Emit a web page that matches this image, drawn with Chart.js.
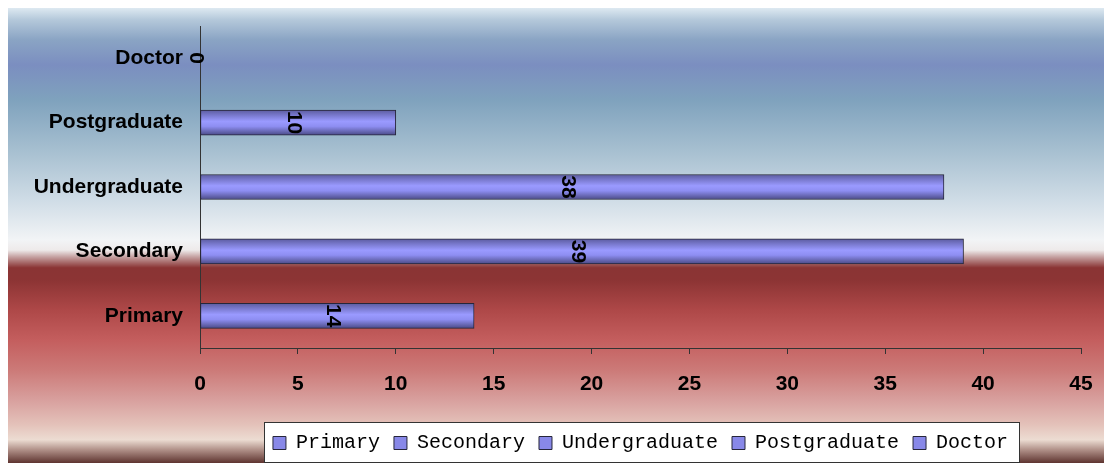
<!DOCTYPE html>
<html>
<head>
<meta charset="utf-8">
<script src="https://cdn.jsdelivr.net/npm/chart.js@4/dist/chart.umd.min.js"></script>
<style>
  html, body { margin: 0; padding: 0; background: #ffffff; }
  #wrap { width: 1107px; height: 463px; position: relative; }
</style>
</head>
<body>
<div id="wrap"><canvas id="c" width="1107" height="463"></canvas></div>
<script>
// Education levels and head counts
const categories = ['Primary', 'Secondary', 'Undergraduate', 'Postgraduate', 'Doctor'];
const counts = [14, 39, 38, 10, 0];
const xMin = 0;
const xMax = 45;
const xStep = 5;

const BAR_H = 25;
const LABEL_FONT = { family: '"Liberation Sans", Arial, sans-serif', size: 21, weight: 'bold' };

// Panel background: blue sky fading to white, then deep red fading to pink
const backdrop = {
  id: 'backdrop',
  beforeDraw(chart) {
    const ctx = chart.ctx;
    ctx.save();
    ctx.fillStyle = '#ffffff';
    ctx.fillRect(0, 0, chart.width, chart.height);
    const top = 8, bottom = chart.height, left = 8, right = 1104;
    const g = ctx.createLinearGradient(0, top, 0, bottom);
    const stops = [
      [0.000, '#dde9f1'], [0.026, '#b4c8da'], [0.070, '#8aa4c4'], [0.125, '#7b8ec0'],
      [0.202, '#7fa2bd'], [0.312, '#a6bfd0'], [0.422, '#cfdce6'], [0.510, '#f2f4f6'],
      [0.532, '#eeeaea'], [0.549, '#c09898'], [0.571, '#8a3434'], [0.598, '#8c3434'],
      [0.664, '#ae4848'], [0.730, '#c45e5e'], [0.796, '#cc7a78'], [0.862, '#d8a09e'],
      [0.916, '#e4c2ba'], [0.949, '#ecdcd2'], [0.971, '#b09088'], [1.000, '#5e3430']
    ];
    stops.forEach(([o, c]) => g.addColorStop(o, c));
    ctx.fillStyle = g;
    ctx.fillRect(left, top, right - left, bottom - top);

    // white framed box behind the legend
    const lg = chart.legend;
    if (lg && lg.legendHitBoxes && lg.legendHitBoxes.length) {
      const hb = lg.legendHitBoxes;
      const x0 = Math.round(hb[0].left) - 8.5;
      const last = hb[hb.length - 1];
      const x1 = Math.round(last.left + last.width) + 11.5;
      const y0 = Math.round(hb[0].top) - 10.5;
      const y1 = Math.round(hb[0].top + hb[0].height) + 9.5;
      ctx.fillStyle = '#ffffff';
      ctx.fillRect(x0, y0, x1 - x0, y1 - y0);
      ctx.strokeStyle = '#333333';
      ctx.lineWidth = 1;
      ctx.strokeRect(x0, y0, x1 - x0, y1 - y0);
    }
    ctx.restore();
  }
};

// Value written inside each bar, turned a quarter clockwise
const barValues = {
  id: 'barValues',
  afterDatasetsDraw(chart) {
    const ctx = chart.ctx;
    const meta = chart.getDatasetMeta(0);
    ctx.save();
    ctx.fillStyle = '#000000';
    ctx.font = 'bold 21px "Liberation Sans", Arial, sans-serif';
    ctx.textAlign = 'center';
    ctx.textBaseline = 'middle';
    meta.data.forEach((el, i) => {
      const cx = (el.base + el.x) / 2 - 4;
      ctx.save();
      ctx.translate(cx, el.y);
      ctx.rotate(Math.PI / 2);
      ctx.fillText(String(counts[i]), 0, 0);
      ctx.restore();
    });
    ctx.restore();
  }
};

function barFill(context) {
  const chart = context.chart;
  if (!chart.chartArea || !chart.scales.y) return '#9999ff';
  const yc = chart.scales.y.getPixelForValue(context.dataIndex);
  const g = chart.ctx.createLinearGradient(0, yc - BAR_H / 2, 0, yc + BAR_H / 2);
  g.addColorStop(0.0, '#5c5ca0');
  g.addColorStop(0.2, '#7878cc');
  g.addColorStop(0.45, '#9a9aff');
  g.addColorStop(0.65, '#8e8ef2');
  g.addColorStop(0.85, '#6868b4');
  g.addColorStop(1.0, '#4a4a88');
  return g;
}

new Chart(document.getElementById('c'), {
  type: 'bar',
  data: {
    labels: categories,
    datasets: [{
      label: 'Count',
      data: counts,
      backgroundColor: barFill,
      borderColor: '#26263a',
      borderWidth: 1,
      borderSkipped: false,
      barThickness: BAR_H
    }]
  },
  options: {
    indexAxis: 'y',
    responsive: false,
    animation: false,
    devicePixelRatio: 1,
    layout: { padding: { top: 26, right: 26, bottom: 0, left: 0 } },
    scales: {
      x: {
        min: xMin,
        max: xMax,
        ticks: { stepSize: xStep, color: '#000000', font: LABEL_FONT, padding: 18 },
        grid: { drawOnChartArea: false, drawTicks: true, tickLength: 6, color: '#333333' },
        border: { display: true, color: '#333333', width: 1 },
        afterFit(scale) {
          scale.height = 71;
          scale.paddingLeft = 0;
          scale.paddingRight = 0;
        }
      },
      y: {
        reverse: true,
        ticks: { color: '#000000', font: LABEL_FONT, padding: 17 },
        grid: { drawOnChartArea: false, drawTicks: false },
        border: { display: true, color: '#333333', width: 1 },
        afterFit(scale) {
          scale.width = 200;
          scale.paddingTop = 0;
          scale.paddingBottom = 0;
        }
      }
    },
    plugins: {
      tooltip: { enabled: false },
      legend: {
        position: 'bottom',
        fullSize: false,
        labels: {
          boxWidth: 13,
          boxHeight: 13,
          padding: 14,
          color: '#000000',
          font: { family: '"Liberation Mono", "DejaVu Sans Mono", monospace', size: 20 },
          generateLabels() {
            return categories.map((name, i) => ({
              text: name,
              fillStyle: '#8888e8',
              strokeStyle: '#26263a',
              lineWidth: 1,
              hidden: false,
              index: i
            }));
          }
        }
      }
    }
  },
  plugins: [backdrop, barValues]
});
</script>
</body>
</html>
